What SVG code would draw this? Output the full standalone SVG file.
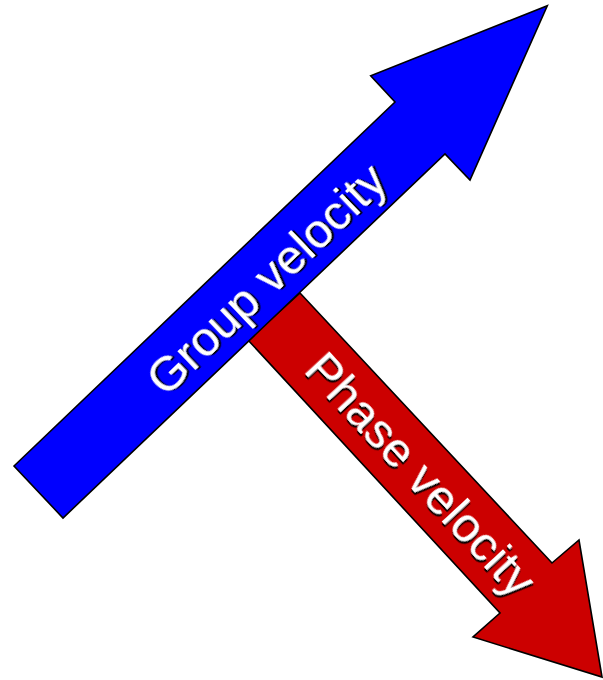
<svg xmlns="http://www.w3.org/2000/svg" width="603" height="680" viewBox="0 0 603 680">
<defs>
<style>
.arrow{stroke:#000;stroke-width:1.6;stroke-linejoin:miter}
.lbl{font-family:"Liberation Sans",Arial,sans-serif;font-size:48.5px;fill:#fff;text-anchor:middle;filter:url(#sh)}
</style>
<filter id="sh" x="-10%" y="-30%" width="120%" height="160%">
<feDropShadow dx="1.8" dy="1.8" stdDeviation="0.4" flood-color="#000" flood-opacity="1"/>
</filter>
</defs>
<g id="connectors"></g>
<g id="phase">
<polygon class="arrow" fill="#cc0000" points="300,293 552,563 579,540 602,677 473,637 500,613 248,340"/>
<text class="lbl" transform="translate(421,474) rotate(47.2)" y="17">Phase velocity</text>
</g>
<g id="group">
<polygon class="arrow" fill="#0000ff" points="14,466 395,102 370.7,75.7 547.3,5.7 470,180 445,154 63,518"/>
<text class="lbl" transform="translate(266,279) rotate(-43.7)" y="17">Group velocity</text>
</g>
</svg>
